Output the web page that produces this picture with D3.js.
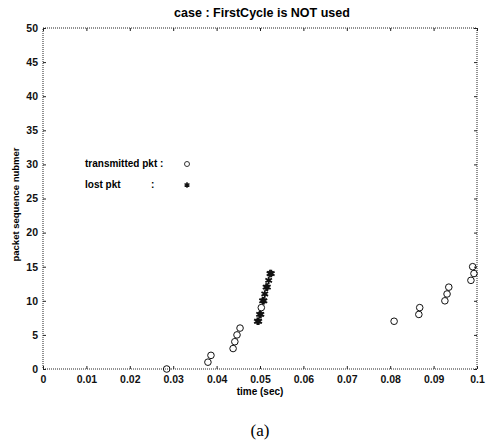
<!DOCTYPE html>
<html>
<head>
<meta charset="utf-8">
<script src="https://cdn.jsdelivr.net/npm/d3@7"></script>
<style>
  body { margin: 0; background: #fff; }
  text { font-family: "Liberation Sans", Arial, sans-serif; }
</style>
</head>
<body>
<div id="vis"></div>
<script>
// packets that went through (time in sec, sequence number)
const sentTimes = [0.0285, 0.0380, 0.0387, 0.0438, 0.0442, 0.0447, 0.0454, 0.0503,
                   0.0809, 0.0866, 0.0868, 0.0926, 0.0931, 0.0935, 0.0986, 0.0993, 0.0990];
const sentSeq   = [0, 1, 2, 3, 4, 5, 6, 9,
                   7, 8, 9, 10, 11, 12, 13, 14, 15];

// lost packets
const lostTimes = [0.0494, 0.0497, 0.0499, 0.0502, 0.0506, 0.0509, 0.0511, 0.0514,
                   0.0517, 0.0520, 0.0523, 0.0526];
const lostSeq   = [7, 7, 8, 8, 10, 10, 11, 12, 12, 13, 14, 14];

const xTicks = [0, 0.01, 0.02, 0.03, 0.04, 0.05, 0.06, 0.07, 0.08, 0.09, 0.1];
const yTicks = [0, 5, 10, 15, 20, 25, 30, 35, 40, 45, 50];

const width = 488, height = 444;
const plotLeft = 43, plotRight = 477, plotTop = 28, plotBottom = 369;

const svg = d3.select("#vis").append("svg")
    .attr("width", width)
    .attr("height", height);

const x = d3.scaleLinear().domain([0, 0.1]).range([plotLeft, plotRight]);
const y = d3.scaleLinear().domain([0, 50]).range([plotBottom, plotTop]);

// dotted frame like the scanned matlab box
svg.append("rect")
    .attr("x", plotLeft).attr("y", plotTop)
    .attr("width", plotRight - plotLeft).attr("height", plotBottom - plotTop)
    .attr("fill", "none")
    .attr("stroke", "#222")
    .attr("stroke-width", 1)
    .attr("stroke-dasharray", "1,1");

const fmt = d => d === 0 ? "0" : d3.format(".2~f")(d);

svg.append("g")
    .attr("transform", `translate(0,${plotBottom})`)
    .call(d3.axisBottom(x).tickValues(xTicks).tickFormat(fmt).tickSizeInner(-3).tickSizeOuter(0).tickPadding(7))
    .call(g => g.select(".domain").remove());

svg.append("g")
    .attr("transform", `translate(0,${plotTop})`)
    .call(d3.axisTop(x).tickValues(xTicks).tickFormat("").tickSizeInner(-3).tickSizeOuter(0))
    .call(g => g.select(".domain").remove());

svg.append("g")
    .attr("transform", `translate(${plotLeft},0)`)
    .call(d3.axisLeft(y).tickValues(yTicks).tickSizeInner(-3).tickSizeOuter(0).tickPadding(5))
    .call(g => g.select(".domain").remove());

svg.append("g")
    .attr("transform", `translate(${plotRight},0)`)
    .call(d3.axisRight(y).tickValues(yTicks).tickFormat("").tickSizeInner(-3).tickSizeOuter(0))
    .call(g => g.select(".domain").remove());

svg.selectAll(".tick text")
    .attr("font-family", "Liberation Sans, Arial, sans-serif")
    .attr("font-size", 10.5)
    .attr("font-weight", "bold")
    .attr("fill", "#111");
svg.selectAll(".tick line").attr("stroke", "#222");

// title and axis labels
svg.append("text")
    .attr("x", 262).attr("y", 17)
    .attr("text-anchor", "middle")
    .attr("font-size", 12.5)
    .attr("font-weight", "bold")
    .text("case : FirstCycle is NOT used");

svg.append("text")
    .attr("x", 260).attr("y", 395)
    .attr("text-anchor", "middle")
    .attr("font-size", 10)
    .attr("font-weight", "bold")
    .text("time (sec)");

svg.append("text")
    .attr("transform", "rotate(-90)")
    .attr("x", -(plotTop + plotBottom) / 2 - 6).attr("y", 19)
    .attr("text-anchor", "middle")
    .attr("font-size", 9.5)
    .attr("font-weight", "bold")
    .text("packet sequence nubmer");

svg.append("text")
    .attr("x", 260).attr("y", 436)
    .attr("text-anchor", "middle")
    .style("font-family", "Liberation Serif, Times New Roman, serif")
    .attr("font-size", 17)
    .text("(a)");

// legend
const legend = svg.append("g").attr("font-size", 10).attr("font-weight", "bold");
legend.append("text").attr("x", 85).attr("y", 167).text("transmitted pkt :");
legend.append("text").attr("x", 85).attr("y", 188).text("lost pkt");
legend.append("text").attr("x", 151).attr("y", 188).text(":");
legend.append("circle")
    .attr("cx", 187).attr("cy", 164).attr("r", 2.5)
    .attr("fill", "none").attr("stroke", "#333").attr("stroke-width", 1);
legend.append("path")
    .attr("transform", "translate(187,185)")
    .attr("d", d3.symbol(d3.symbolAsterisk, 22)())
    .attr("fill", "none").attr("stroke", "#111").attr("stroke-width", 1.5);

// transmitted packets
svg.append("g").selectAll("circle")
    .data(sentTimes.map((t, i) => [t, sentSeq[i]]))
    .join("circle")
    .attr("cx", d => x(d[0]))
    .attr("cy", d => y(d[1]))
    .attr("r", 3.3)
    .attr("fill", "none")
    .attr("stroke", "#111")
    .attr("stroke-width", 1);

// lost packets
svg.append("g").selectAll("path")
    .data(lostTimes.map((t, i) => [t, lostSeq[i]]))
    .join("path")
    .attr("transform", d => `translate(${x(d[0])},${y(d[1])})`)
    .attr("d", d3.symbol(d3.symbolAsterisk, 40)())
    .attr("fill", "none")
    .attr("stroke", "#111")
    .attr("stroke-width", 1.8);
</script>
</body>
</html>
